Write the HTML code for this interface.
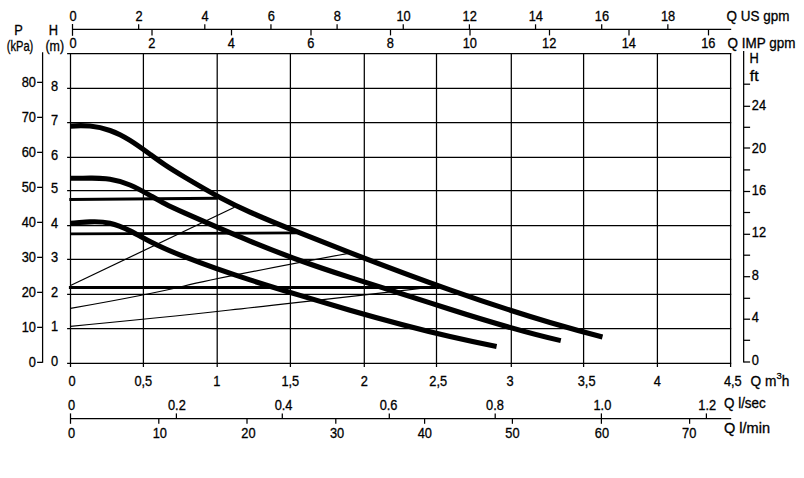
<!DOCTYPE html>
<html lang="en"><head><meta charset="utf-8"><title>Pump performance curves</title>
<style>html,body{margin:0;padding:0;background:#fff;overflow:hidden}svg{display:block}text{font-family:"Liberation Sans",sans-serif;font-size:13.8px;fill:#000;stroke:#000;stroke-width:0.3px}</style></head><body>
<svg width="804" height="478" viewBox="0 0 804 478">
<rect width="804" height="478" fill="#fff"/>
<g stroke="#000" fill="none" shape-rendering="auto">
<line x1="70.50" y1="52.90" x2="70.50" y2="366.90" stroke-width="1.25"/>
<line x1="143.40" y1="52.90" x2="143.40" y2="366.90" stroke-width="1.25"/>
<line x1="217.20" y1="52.90" x2="217.20" y2="366.90" stroke-width="1.25"/>
<line x1="290.40" y1="52.90" x2="290.40" y2="366.90" stroke-width="1.25"/>
<line x1="364.30" y1="52.90" x2="364.30" y2="366.90" stroke-width="1.25"/>
<line x1="436.50" y1="52.90" x2="436.50" y2="366.90" stroke-width="1.25"/>
<line x1="511.30" y1="52.90" x2="511.30" y2="366.90" stroke-width="1.25"/>
<line x1="583.60" y1="52.90" x2="583.60" y2="366.90" stroke-width="1.25"/>
<line x1="657.40" y1="52.90" x2="657.40" y2="366.90" stroke-width="1.25"/>
<line x1="730.60" y1="52.90" x2="730.60" y2="366.90" stroke-width="1.25"/>
<line x1="67.10" y1="53.50" x2="731.20" y2="53.50" stroke-width="1.25"/>
<line x1="67.10" y1="363.40" x2="731.20" y2="363.40" stroke-width="1.25"/>
<line x1="67.10" y1="328.50" x2="731.20" y2="328.50" stroke-width="1.25"/>
<line x1="67.10" y1="294.45" x2="731.20" y2="294.45" stroke-width="1.25"/>
<line x1="67.10" y1="259.40" x2="731.20" y2="259.40" stroke-width="1.25"/>
<line x1="67.10" y1="225.50" x2="731.20" y2="225.50" stroke-width="1.25"/>
<line x1="67.10" y1="190.50" x2="731.20" y2="190.50" stroke-width="1.25"/>
<line x1="67.10" y1="157.40" x2="731.20" y2="157.40" stroke-width="1.25"/>
<line x1="67.10" y1="122.50" x2="731.20" y2="122.50" stroke-width="1.25"/>
<line x1="67.10" y1="88.45" x2="731.20" y2="88.45" stroke-width="1.25"/>
<line x1="72.50" y1="29.45" x2="731.20" y2="29.45" stroke-width="1.25"/>
<line x1="72.50" y1="24.00" x2="72.50" y2="35.80" stroke-width="1.25"/>
<line x1="138.65" y1="24.30" x2="138.65" y2="29.45" stroke-width="1.25"/>
<line x1="204.80" y1="24.30" x2="204.80" y2="29.45" stroke-width="1.25"/>
<line x1="270.95" y1="24.30" x2="270.95" y2="29.45" stroke-width="1.25"/>
<line x1="337.10" y1="24.30" x2="337.10" y2="29.45" stroke-width="1.25"/>
<line x1="403.25" y1="24.30" x2="403.25" y2="29.45" stroke-width="1.25"/>
<line x1="469.40" y1="24.30" x2="469.40" y2="29.45" stroke-width="1.25"/>
<line x1="535.55" y1="24.30" x2="535.55" y2="29.45" stroke-width="1.25"/>
<line x1="601.70" y1="24.30" x2="601.70" y2="29.45" stroke-width="1.25"/>
<line x1="667.85" y1="24.30" x2="667.85" y2="29.45" stroke-width="1.25"/>
<line x1="152.00" y1="29.45" x2="152.00" y2="35.40" stroke-width="1.25"/>
<line x1="231.50" y1="29.45" x2="231.50" y2="35.40" stroke-width="1.25"/>
<line x1="311.00" y1="29.45" x2="311.00" y2="35.40" stroke-width="1.25"/>
<line x1="390.50" y1="29.45" x2="390.50" y2="35.40" stroke-width="1.25"/>
<line x1="470.00" y1="29.45" x2="470.00" y2="35.40" stroke-width="1.25"/>
<line x1="549.50" y1="29.45" x2="549.50" y2="35.40" stroke-width="1.25"/>
<line x1="629.00" y1="29.45" x2="629.00" y2="35.40" stroke-width="1.25"/>
<line x1="708.50" y1="29.45" x2="708.50" y2="35.40" stroke-width="1.25"/>
<line x1="70.50" y1="418.50" x2="731.20" y2="418.50" stroke-width="1.25"/>
<line x1="70.50" y1="413.40" x2="70.50" y2="423.80" stroke-width="1.25"/>
<line x1="176.40" y1="413.40" x2="176.40" y2="418.50" stroke-width="1.25"/>
<line x1="282.30" y1="413.40" x2="282.30" y2="418.50" stroke-width="1.25"/>
<line x1="389.30" y1="413.40" x2="389.30" y2="418.50" stroke-width="1.25"/>
<line x1="495.20" y1="413.40" x2="495.20" y2="418.50" stroke-width="1.25"/>
<line x1="601.40" y1="413.40" x2="601.40" y2="418.50" stroke-width="1.25"/>
<line x1="706.40" y1="413.40" x2="706.40" y2="418.50" stroke-width="1.25"/>
<line x1="158.80" y1="418.50" x2="158.80" y2="423.80" stroke-width="1.25"/>
<line x1="247.00" y1="418.50" x2="247.00" y2="423.80" stroke-width="1.25"/>
<line x1="335.80" y1="418.50" x2="335.80" y2="423.80" stroke-width="1.25"/>
<line x1="424.60" y1="418.50" x2="424.60" y2="423.80" stroke-width="1.25"/>
<line x1="512.40" y1="418.50" x2="512.40" y2="423.80" stroke-width="1.25"/>
<line x1="601.40" y1="418.50" x2="601.40" y2="423.80" stroke-width="1.25"/>
<line x1="689.60" y1="418.50" x2="689.60" y2="423.80" stroke-width="1.25"/>
<line x1="42.60" y1="52.20" x2="42.60" y2="362.70" stroke-width="1.25"/>
<line x1="37.10" y1="362.35" x2="42.60" y2="362.35" stroke-width="1.25"/>
<line x1="37.10" y1="327.35" x2="42.60" y2="327.35" stroke-width="1.25"/>
<line x1="37.10" y1="292.35" x2="42.60" y2="292.35" stroke-width="1.25"/>
<line x1="37.10" y1="257.35" x2="42.60" y2="257.35" stroke-width="1.25"/>
<line x1="37.10" y1="222.35" x2="42.60" y2="222.35" stroke-width="1.25"/>
<line x1="37.10" y1="187.35" x2="42.60" y2="187.35" stroke-width="1.25"/>
<line x1="37.10" y1="152.35" x2="42.60" y2="152.35" stroke-width="1.25"/>
<line x1="37.10" y1="117.35" x2="42.60" y2="117.35" stroke-width="1.25"/>
<line x1="37.10" y1="82.35" x2="42.60" y2="82.35" stroke-width="1.25"/>
<line x1="743.65" y1="51.00" x2="743.65" y2="362.50" stroke-width="1.25"/>
<line x1="743.65" y1="362.00" x2="750.10" y2="362.00" stroke-width="1.25"/>
<line x1="743.65" y1="340.30" x2="750.10" y2="340.30" stroke-width="1.25"/>
<line x1="743.65" y1="319.20" x2="750.10" y2="319.20" stroke-width="1.25"/>
<line x1="743.65" y1="298.30" x2="750.10" y2="298.30" stroke-width="1.25"/>
<line x1="743.65" y1="276.70" x2="750.10" y2="276.70" stroke-width="1.25"/>
<line x1="743.65" y1="255.20" x2="750.10" y2="255.20" stroke-width="1.25"/>
<line x1="743.65" y1="234.30" x2="750.10" y2="234.30" stroke-width="1.25"/>
<line x1="743.65" y1="212.50" x2="750.10" y2="212.50" stroke-width="1.25"/>
<line x1="743.65" y1="191.50" x2="750.10" y2="191.50" stroke-width="1.25"/>
<line x1="743.65" y1="169.90" x2="750.10" y2="169.90" stroke-width="1.25"/>
<line x1="743.65" y1="148.00" x2="750.10" y2="148.00" stroke-width="1.25"/>
<line x1="743.65" y1="127.30" x2="750.10" y2="127.30" stroke-width="1.25"/>
<line x1="743.65" y1="106.30" x2="750.10" y2="106.30" stroke-width="1.25"/>
<line x1="743.65" y1="84.20" x2="750.10" y2="84.20" stroke-width="1.25"/>
</g>
<g stroke="#000" fill="none" stroke-linecap="butt" stroke-linejoin="round">
<path d="M70.5,285.5 L234.5,207.3" stroke-width="1.2"/>
<path d="M70.5,308.4 Q150,294.4 184.1,286.0 T348.5,253.3" stroke-width="1.2"/>
<path d="M70.5,326.3 C120,321.6 170,316.7 230,310.0 S370,294.8 438.5,286.2" stroke-width="1.2"/>
<line x1="69.30" y1="199.50" x2="217.50" y2="198.30" stroke-width="2.9"/>
<line x1="70.00" y1="233.80" x2="296.50" y2="232.90" stroke-width="2.8"/>
<line x1="68.90" y1="287.50" x2="439.50" y2="287.50" stroke-width="3.0"/>
<path d="M70.50,126.15 C77.00,125.51 83.50,125.43 90.00,126.08 C96.67,126.75 103.33,128.18 110.00,130.53 C113.33,131.70 116.67,133.11 120.00,134.77 C123.33,136.42 126.67,138.34 130.00,140.41 C136.67,144.57 143.33,149.40 150.00,154.25 C155.00,157.88 160.00,161.52 165.00,164.88 C171.67,169.37 178.33,173.36 185.00,177.34 C196.67,184.29 208.33,191.18 220.00,197.40 C230.00,202.73 240.00,207.57 250.00,212.09 C266.67,219.63 283.33,226.30 300.00,232.92 C316.67,239.54 333.33,246.11 350.00,252.59 C383.33,265.54 416.67,278.11 450.00,289.89 C483.33,301.68 516.67,312.68 550.00,322.51 C567.50,327.67 585.00,332.50 602.50,336.95" stroke-width="5.1"/>
<path d="M70.50,178.30 C77.00,178.42 83.50,178.15 90.00,178.10 C95.33,178.05 100.67,178.16 106.00,178.75 C107.33,178.90 108.67,179.08 110.00,179.29 C116.67,180.35 123.33,182.19 130.00,184.99 C136.67,187.79 143.33,191.53 150.00,195.36 C155.00,198.24 160.00,201.17 165.00,203.79 C171.67,207.29 178.33,210.24 185.00,213.19 C206.67,222.75 228.33,232.19 250.00,241.10 C266.67,247.95 283.33,254.48 300.00,260.52 C316.67,266.56 333.33,272.09 350.00,277.44 C366.67,282.79 383.33,287.96 400.00,293.25 C416.67,298.54 433.33,303.95 450.00,309.27 C486.93,321.04 523.87,332.32 560.80,340.63" stroke-width="5.1"/>
<path d="M70.50,223.20 C77.00,222.85 83.50,222.14 90.00,221.86 C96.67,221.58 103.33,221.76 110.00,223.25 C116.67,224.74 123.33,227.54 130.00,230.86 C136.67,234.17 143.33,238.00 150.00,241.45 C161.67,247.49 173.33,252.36 185.00,256.94 C206.67,265.44 228.33,272.94 250.00,279.93 C266.67,285.32 283.33,290.40 300.00,295.42 C316.67,300.43 333.33,305.38 350.00,310.18 C383.33,319.78 416.67,328.77 450.00,336.50 C465.53,340.10 481.07,343.42 496.60,346.40" stroke-width="5.1"/>
</g>
<g transform="scale(0.93,1)">
<text x="78.6" y="20.7" text-anchor="middle">0</text>
<text x="149.4" y="20.7" text-anchor="middle">2</text>
<text x="220.5" y="20.7" text-anchor="middle">4</text>
<text x="291.7" y="20.7" text-anchor="middle">6</text>
<text x="362.8" y="20.7" text-anchor="middle">8</text>
<text x="433.9" y="20.7" text-anchor="middle">10</text>
<text x="505.1" y="20.7" text-anchor="middle">12</text>
<text x="576.2" y="20.7" text-anchor="middle">14</text>
<text x="647.3" y="20.7" text-anchor="middle">16</text>
<text x="718.4" y="20.7" text-anchor="middle">18</text>
<text x="78.5" y="48.3" text-anchor="middle">0</text>
<text x="163.2" y="48.3" text-anchor="middle">2</text>
<text x="248.7" y="48.3" text-anchor="middle">4</text>
<text x="334.2" y="48.3" text-anchor="middle">6</text>
<text x="419.7" y="48.3" text-anchor="middle">8</text>
<text x="505.2" y="48.3" text-anchor="middle">10</text>
<text x="590.6" y="48.3" text-anchor="middle">12</text>
<text x="676.1" y="48.3" text-anchor="middle">14</text>
<text x="761.6" y="48.3" text-anchor="middle">16</text>
<text x="781.3" y="20.9" text-anchor="start" textLength="67.5" lengthAdjust="spacingAndGlyphs">Q US gpm</text>
<text x="782.4" y="48.2" text-anchor="start" textLength="72.9" lengthAdjust="spacingAndGlyphs">Q IMP gpm</text>
<text x="20.0" y="35.5" text-anchor="middle">P</text>
<text x="21.5" y="51.3" text-anchor="middle" textLength="28.6" lengthAdjust="spacingAndGlyphs">(kPa)</text>
<text x="57.4" y="35.5" text-anchor="middle">H</text>
<text x="58.9" y="51.3" text-anchor="middle" textLength="20.0" lengthAdjust="spacingAndGlyphs">(m)</text>
<text x="38.7" y="367.2" text-anchor="end">0</text>
<text x="38.7" y="332.2" text-anchor="end">10</text>
<text x="38.7" y="297.2" text-anchor="end">20</text>
<text x="38.7" y="262.2" text-anchor="end">30</text>
<text x="38.7" y="227.3" text-anchor="end">40</text>
<text x="38.7" y="192.3" text-anchor="end">50</text>
<text x="38.7" y="157.3" text-anchor="end">60</text>
<text x="38.7" y="122.3" text-anchor="end">70</text>
<text x="38.7" y="87.3" text-anchor="end">80</text>
<text x="58.7" y="366.4" text-anchor="middle">0</text>
<text x="58.7" y="331.5" text-anchor="middle">1</text>
<text x="58.7" y="297.4" text-anchor="middle">2</text>
<text x="58.7" y="262.4" text-anchor="middle">3</text>
<text x="58.7" y="228.5" text-anchor="middle">4</text>
<text x="58.7" y="193.5" text-anchor="middle">5</text>
<text x="58.7" y="160.4" text-anchor="middle">6</text>
<text x="58.7" y="125.5" text-anchor="middle">7</text>
<text x="58.7" y="91.5" text-anchor="middle">8</text>
<text x="806.0" y="63.2" text-anchor="start">H</text>
<text x="806.2" y="81.0" text-anchor="start" textLength="9.5" lengthAdjust="spacingAndGlyphs">ft</text>
<text x="808.4" y="364.6" text-anchor="start">0</text>
<text x="808.4" y="322.2" text-anchor="start">4</text>
<text x="808.4" y="279.9" text-anchor="start">8</text>
<text x="808.4" y="237.5" text-anchor="start">12</text>
<text x="808.4" y="195.2" text-anchor="start">16</text>
<text x="808.4" y="152.8" text-anchor="start">20</text>
<text x="808.4" y="110.4" text-anchor="start">24</text>
<text x="77.4" y="386.0" text-anchor="middle">0</text>
<text x="154.1" y="386.0" text-anchor="middle">0,5</text>
<text x="233.2" y="386.0" text-anchor="middle">1</text>
<text x="312.2" y="386.0" text-anchor="middle">1,5</text>
<text x="391.7" y="386.0" text-anchor="middle">2</text>
<text x="471.2" y="386.0" text-anchor="middle">2,5</text>
<text x="548.6" y="386.0" text-anchor="middle">3</text>
<text x="630.8" y="386.0" text-anchor="middle">3,5</text>
<text x="706.9" y="386.0" text-anchor="middle">4</text>
<text x="788.0" y="386.0" text-anchor="middle">4,5</text>
<text x="807.1" y="386.0" textLength="41.7" lengthAdjust="spacingAndGlyphs">Q m<tspan dy="-7.2" font-size="9.6px">3</tspan><tspan dy="7.2">h</tspan></text>
<text x="77.0" y="410.3" text-anchor="middle">0</text>
<text x="190.2" y="410.3" text-anchor="middle">0.2</text>
<text x="304.9" y="410.3" text-anchor="middle">0.4</text>
<text x="417.8" y="410.3" text-anchor="middle">0.6</text>
<text x="532.3" y="410.3" text-anchor="middle">0.8</text>
<text x="647.7" y="410.3" text-anchor="middle">1.0</text>
<text x="760.4" y="410.3" text-anchor="middle">1.2</text>
<text x="778.5" y="408.1" text-anchor="start" textLength="44.9" lengthAdjust="spacingAndGlyphs">Q l/sec</text>
<text x="77.0" y="437.8" text-anchor="middle">0</text>
<text x="171.9" y="437.8" text-anchor="middle">10</text>
<text x="267.1" y="437.8" text-anchor="middle">20</text>
<text x="362.4" y="437.8" text-anchor="middle">30</text>
<text x="456.8" y="437.8" text-anchor="middle">40</text>
<text x="551.0" y="437.8" text-anchor="middle">50</text>
<text x="647.3" y="437.8" text-anchor="middle">60</text>
<text x="741.1" y="437.8" text-anchor="middle">70</text>
<text x="778.5" y="433.0" text-anchor="start" textLength="49.5" lengthAdjust="spacingAndGlyphs">Q l/min</text>
</g>
</svg></body></html>
